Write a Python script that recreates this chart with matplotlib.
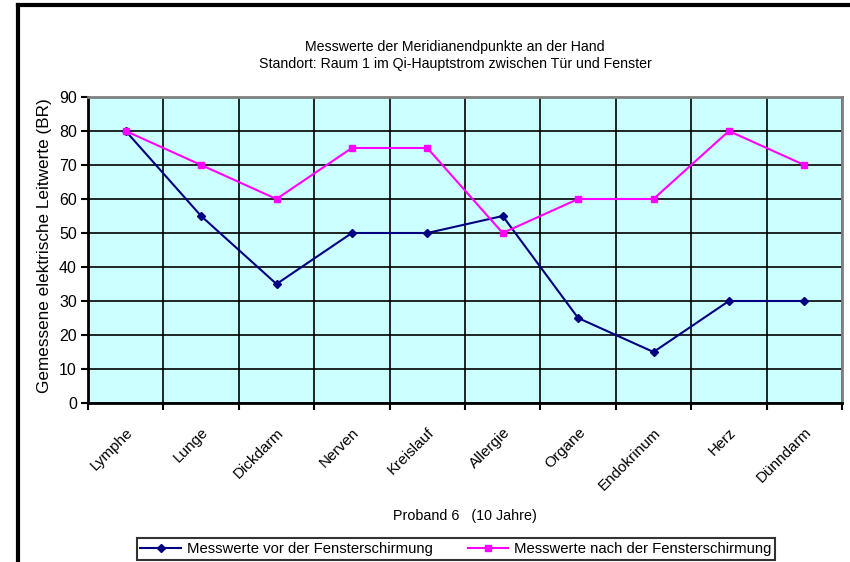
import matplotlib.pyplot as plt
import numpy as np
from matplotlib.lines import Line2D
from matplotlib.transforms import Bbox, TransformedBbox, ScaledTranslation

plt.rcParams['font.family'] = ['Liberation Sans', 'DejaVu Sans']

categories = ['Lymphe', 'Lunge', 'Dickdarm', 'Nerven', 'Kreislauf', 'Allergie',
              'Organe', 'Endokrinum', 'Herz', 'Dünndarm']
vorher = [80, 55, 35, 50, 50, 55, 25, 15, 30, 30]
nachher = [80, 70, 60, 75, 75, 50, 60, 60, 80, 70]

fig = plt.figure(figsize=(8.5, 5.62), dpi=100)
ax = fig.add_axes([88/850, 1-403/562, (842-88)/850, (403-97)/562])
ax.set_facecolor('#ccffff')

x = np.arange(len(categories))
ax.plot(x, vorher, color='#000080', lw=1.5, marker='D', ms=4,
        label='Messwerte vor der Fensterschirmung', zorder=3)
ax.plot(x, nachher, color='#ff00ff', lw=1.5, marker='s', ms=4.5,
        label='Messwerte nach der Fensterschirmung', zorder=3)

ax.set_xlim(-0.5, len(categories) - 0.5)
ax.set_ylim(0, 90)
ax.set_yticks(range(0, 91, 10))
ax.set_xticks(x)
ax.set_xticklabels(categories, rotation=45, ha='right', rotation_mode='anchor')
shift = ScaledTranslation(-10/100, 0, fig.dpi_scale_trans)
for lab in ax.get_xticklabels():
    lab.set_transform(lab.get_transform() + shift)
ax.set_xticks(np.arange(-0.5, len(categories), 1), minor=True)
ax.tick_params(axis='x', which='major', length=0, pad=16, labelsize=11)
ax.tick_params(axis='x', which='minor', length=5, width=1.5, direction='out')
ax.tick_params(axis='y', length=5, width=1.5, labelsize=11.5, pad=3)
ax.grid(axis='y', which='major', color='black', lw=1.2)
ax.grid(axis='x', which='minor', color='black', lw=1.2)
ax.set_axisbelow(True)

for s in ['left', 'bottom']:
    ax.spines[s].set_color('black')
    ax.spines[s].set_linewidth(2)
for s in ['top', 'right']:
    ax.spines[s].set_color('#808080')
    ax.spines[s].set_linewidth(2)

ax.set_xlabel('Proband 6   (10 Jahre)', fontsize=10.3, labelpad=12)

yl = fig.text(45/850, 1 - 393/562, 'Gemessene elektrische Leitwerte (BR)',
              rotation=90, ha='center', va='bottom', fontsize=12.3)
yl.set_clip_box(TransformedBbox(Bbox([[0, 0], [1, 1 - 97/562]]), fig.transFigure))
yl.set_clip_on(True)

fig.text(455/850, 1 - 47/562, 'Messwerte der Meridianendpunkte an der Hand',
         ha='center', va='center', fontsize=10.2)
fig.text(455/850, 1 - 64/562, 'Standort: Raum 1 im Qi-Hauptstrom zwischen Tür und Fenster',
         ha='center', va='center', fontsize=10.2)

leg = fig.legend(loc='center', bbox_to_anchor=(456/850, 1 - 549/562), ncol=2,
                 fontsize=10.7, frameon=True, fancybox=False, edgecolor='black',
                 handlelength=2.7, columnspacing=2.4, borderpad=0.25,
                 handletextpad=0.4)
leg.get_frame().set_linewidth(1.5)

# outer chart border (cropped at right and bottom)
fig.add_artist(Line2D([18/850, 1], [1 - 5/562, 1 - 5/562], color='black', lw=3,
                      transform=fig.transFigure))
fig.add_artist(Line2D([18/850, 18/850], [0, 1 - 5/562], color='black', lw=3,
                      transform=fig.transFigure))

fig.savefig('out.png', dpi=100)
